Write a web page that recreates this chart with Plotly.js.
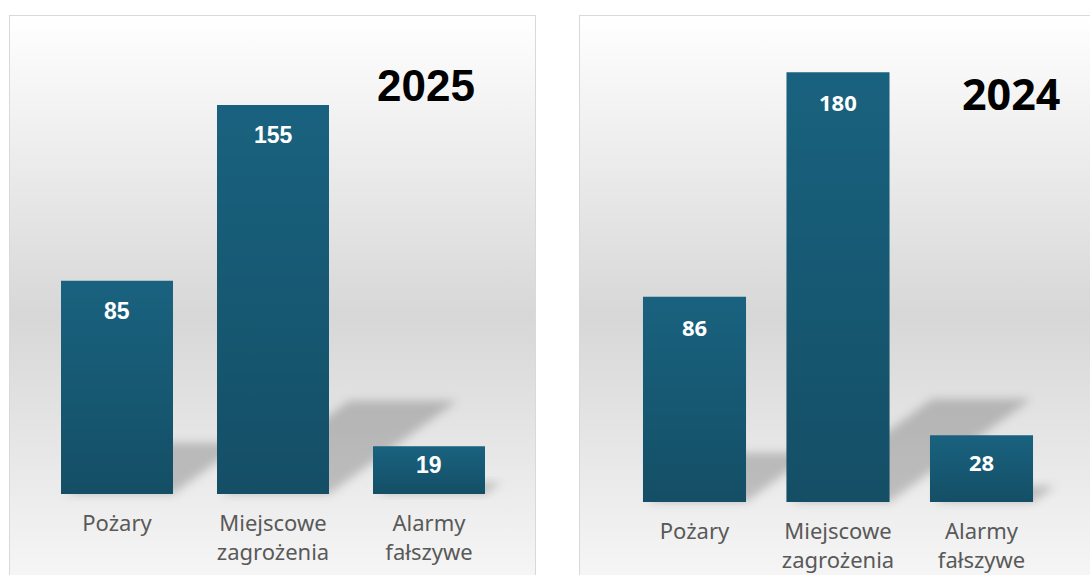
<!DOCTYPE html>
<html>
<head>
<meta charset="utf-8">
<script src="https://cdn.plot.ly/plotly-3.0.1.min.js"></script>
<style>html,body{margin:0;padding:0;background:#fff;}#chart{width:1090px;height:575px;}</style>
</head>
<body>
<div id="chart"></div>
<script>
// ---- data ----
const categories = ["Pożary", "Miejscowe<br>zagrożenia", "Alarmy<br>fałszywe"];
const values2025 = [85, 155, 19];
const values2024 = [86, 180, 28];
const years = ["2025", "2024"];

// ---- layout geometry (pixels) ----
const W = 1090, H = 575;
const panels = [
  {x0: 39, x1: 507, base: 494, top: 42.2, ymax: 180, values: values2025,
   box: [9.5, 15.5, 526, 640], numFont: "Liberation Sans, Arial, sans-serif", numSize: 23,
   title: {x: 426, y: 85, font: "Liberation Sans, Arial, sans-serif", size: 44}},
  {x0: 622.75, x1: 1053.25, base: 502, top: 24.6, ymax: 200, values: values2024,
   box: [579.5, 15.5, 530, 640], numFont: "Open Sans, sans-serif", numSize: 22,
   title: {x: 1010.5, y: 94, font: "Open Sans, sans-serif", size: 43}}
];
const bargap = 0.282;

function barGeom(p, i, v) {
  const step = (p.x1 - p.x0) / categories.length;
  const cx = p.x0 + (i + 0.5) * step;
  const w = step * (1 - bargap);
  const yTop = p.base - v * (p.base - p.top) / p.ymax;
  return {l: cx - w / 2, r: cx + w / 2, t: yTop, b: p.base, h: p.base - yTop};
}

// ---- background svg: panels + shadows ----
let bg = `<svg xmlns='http://www.w3.org/2000/svg' width='${W}' height='${H}' viewBox='0 0 ${W} ${H}'>
<defs><linearGradient id='g' x1='0' y1='0' x2='0' y2='1'>
<stop offset='0' stop-color='#ffffff'/><stop offset='0.47' stop-color='#d7d7d7'/><stop offset='1' stop-color='#ffffff'/></linearGradient>
<filter id='bl' x='-50%' y='-50%' width='200%' height='200%'><feGaussianBlur stdDeviation='5'/></filter></defs>`;
panels.forEach(p => {
  bg += `<rect x='${p.box[0]}' y='${p.box[1]}' width='${p.box[2]}' height='${p.box[3]}' fill='url(#g)' stroke='#d9d9d9' stroke-width='1'/>`;
});
panels.forEach(p => {
  p.values.forEach((v, i) => {
    const g = barGeom(p, i, v);
    const dx = 0.33 * g.h, dy = 0.24 * g.h;
    bg += `<polygon points='${g.l+4},${g.b} ${g.r},${g.b} ${g.r+dx},${g.b-dy} ${g.l+dx+4},${g.b-dy}' fill='#000' fill-opacity='0.2' filter='url(#bl)'/>`;
  });
});
bg += `</svg>`;

// ---- bar gradient overlay ----
let ov = `<svg xmlns='http://www.w3.org/2000/svg' width='${W}' height='${H}' viewBox='0 0 ${W} ${H}'>
<defs><linearGradient id='d' x1='0' y1='0' x2='0' y2='1'>
<stop offset='0' stop-color='#000' stop-opacity='0'/><stop offset='1' stop-color='#000' stop-opacity='0.2'/></linearGradient></defs>`;
panels.forEach(p => {
  p.values.forEach((v, i) => {
    const g = barGeom(p, i, v);
    ov += `<rect x='${g.l}' y='${g.t}' width='${g.r-g.l}' height='${g.h}' fill='url(#d)'/>`;
  });
});
ov += `</svg>`;

const uri = s => 'data:image/svg+xml;charset=utf-8,' + encodeURIComponent(s);

// ---- traces ----
const barColor = '#19627f';
const traces = panels.map((p, k) => ({
  type: 'bar', x: categories, y: p.values,
  xaxis: k ? 'x2' : 'x', yaxis: k ? 'y2' : 'y',
  marker: {color: barColor}, hoverinfo: 'skip', showlegend: false
}));

// ---- annotations: data labels + year titles ----
const annotations = [];
panels.forEach((p, k) => {
  p.values.forEach((v, i) => {
    const g = barGeom(p, i, v);
    annotations.push({
      x: categories[i], y: v, xref: k ? 'x2' : 'x', yref: k ? 'y2' : 'y',
      text: String(v), showarrow: false, yanchor: 'middle',
      yshift: -Math.min(30, g.h * 0.4),
      font: {family: p.numFont, size: p.numSize, color: '#ffffff', weight: 'bold'}
    });
  });
  annotations.push({
    x: p.title.x / W, y: 1 - p.title.y / H, xref: 'paper', yref: 'paper',
    text: years[k], showarrow: false, xanchor: 'center', yanchor: 'middle',
    font: {family: p.title.font, size: p.title.size, color: '#000000', weight: 'bold'}
  });
});

function xa(p, anchor) {
  return {domain: [p.x0 / W, p.x1 / W], range: [-0.5, 2.5], type: 'category',
    anchor: anchor, showgrid: false, zeroline: false, showline: false, ticks: '',
    tickfont: {family: 'Noto Sans, sans-serif', size: 22, color: '#595959'},
    ticklabelstandoff: 14, fixedrange: true};
}
function ya(p, anchor) {
  return {domain: [1 - p.base / H, 1 - p.top / H], range: [0, p.ymax], anchor: anchor,
    visible: false, showgrid: false, zeroline: false, fixedrange: true};
}

const layout = {
  width: W, height: H, margin: {l: 0, r: 0, t: 0, b: 0, pad: 0},
  paper_bgcolor: '#ffffff', plot_bgcolor: 'rgba(0,0,0,0)',
  bargap: bargap, showlegend: false,
  xaxis: xa(panels[0], 'y'), yaxis: ya(panels[0], 'x'),
  xaxis2: xa(panels[1], 'y2'), yaxis2: ya(panels[1], 'x2'),
  annotations: annotations,
  images: [
    {source: uri(bg), xref: 'paper', yref: 'paper', x: 0, y: 1, sizex: 1, sizey: 1,
     xanchor: 'left', yanchor: 'top', sizing: 'stretch', layer: 'below'},
    {source: uri(ov), xref: 'paper', yref: 'paper', x: 0, y: 1, sizex: 1, sizey: 1,
     xanchor: 'left', yanchor: 'top', sizing: 'stretch', layer: 'above'}
  ]
};

Plotly.newPlot('chart', traces, layout, {staticPlot: true, displayModeBar: false});
</script>
</body>
</html>
